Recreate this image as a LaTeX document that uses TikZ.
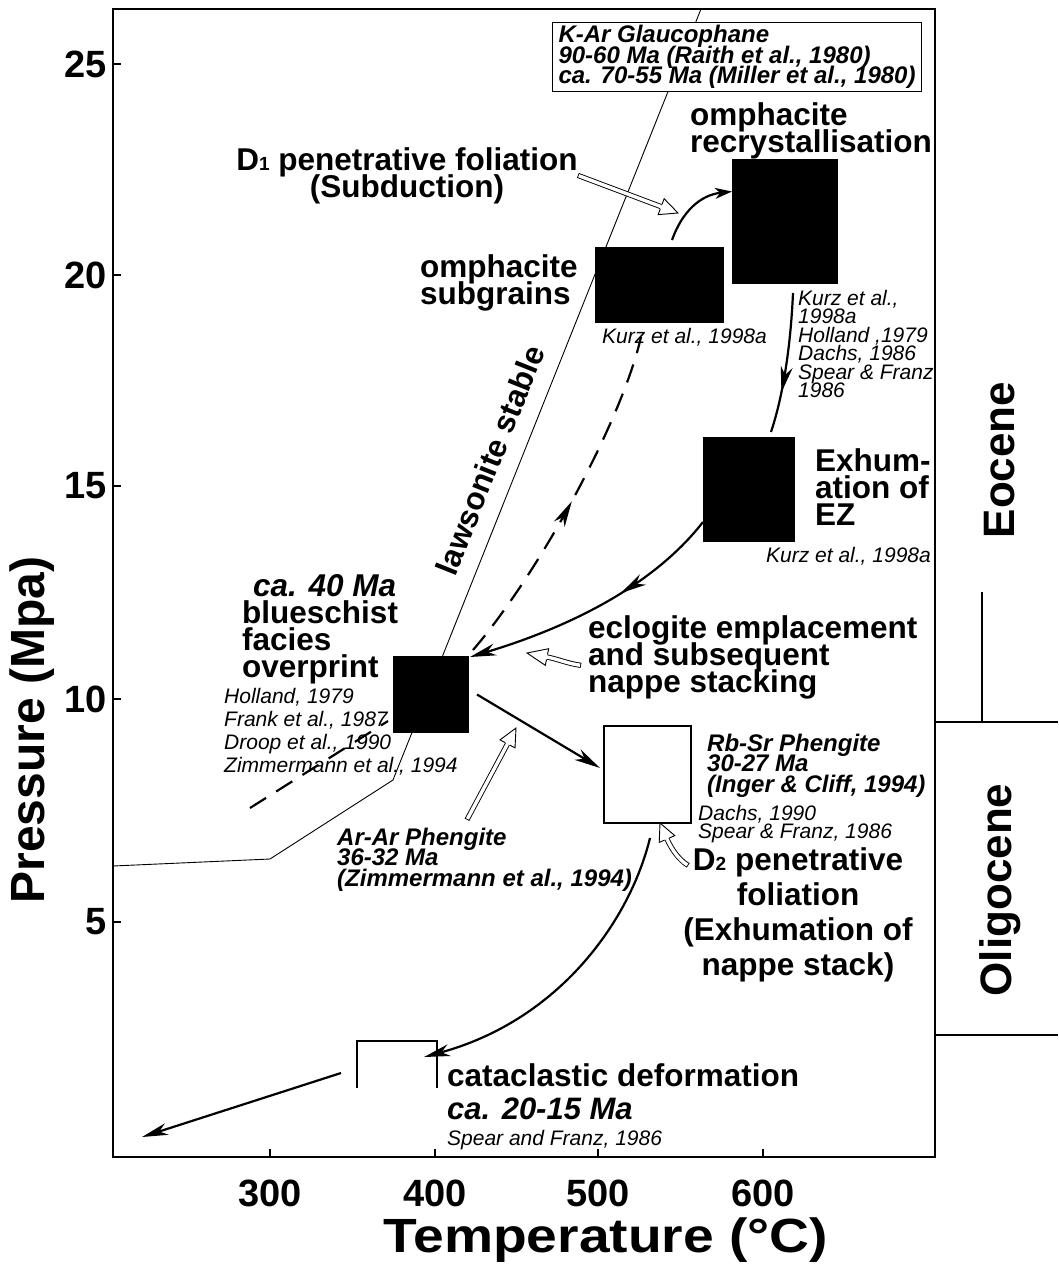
\documentclass[tikz,border=0pt]{standalone}
\usepackage{fontspec}
\setmainfont{Liberation Sans}
\usetikzlibrary{arrows.meta,positioning,calc,decorations.markings}
\lineskiplimit=-100pt

% open (outlined) arrow head: base point, tip
\newcommand{\openhead}[2]{%
  \filldraw[ohead] ($(#1)!2.6pt!90:(#2)$) -- ($(#1)!8.5pt!90:(#2)$) -- (#2)
    -- ($(#1)!8.5pt!-90:(#2)$) -- ($(#1)!2.6pt!-90:(#2)$);}

\begin{document}
\begin{tikzpicture}[x=1pt,y=1pt,
    >={Stealth[length=26pt,width=12pt,inset=8pt]},
    axframe/.style={line width=2pt},
    lawline/.style={line width=0.9pt},
    conn/.style={line width=2.2pt},
    dashconn/.style={line width=2.2pt,dash pattern=on 19pt off 12pt},
    midarr/.style={postaction={decorate,decoration={markings,mark=at position #1 with {\arrow{>}}}}},
    blkbox/.style={fill=black,inner sep=0pt,outer sep=0pt},
    opnbox/.style={draw,line width=1.2pt,inner sep=0pt,outer sep=0pt},
    oarrow/.style={white,line width=3.4pt,shorten <=0.9pt,preaction={draw=black,line width=5.2pt,shorten <=0pt}},
    ohead/.style={fill=white,draw=black,line width=0.9pt},
    lbl/.style={font=\fontsize{31.5}{27}\selectfont\bfseries,inner sep=0pt,align=left},
    age/.style={font=\fontsize{24}{20.5}\selectfont\bfseries\itshape,inner sep=0pt,align=left},
    ref/.style={font=\fontsize{21}{18.5}\selectfont\itshape,inner sep=0pt,align=left},
    ticklbl/.style={font=\fontsize{38}{38}\selectfont\bfseries,inner sep=0pt},
    axlbl/.style={font=\fontsize{48}{48}\selectfont\bfseries,inner sep=0pt},
    epoch/.style={font=\fontsize{44}{44}\selectfont\bfseries,inner sep=0pt,rotate=90}]

\useasboundingbox (0,0) rectangle (1058,-1264);

% axes
\draw[axframe] (113,-9) rectangle (935,-1157);
\foreach \p/\y in {25/64,20/275,15/486,10/699,5/922}{
  \draw[axframe] (113,-\y) -- +(8,0);
  \node[ticklbl,anchor=east] (p\p) at (107,-\y) {\p};
}
\foreach \t/\x in {300/270,400/435,500/598,600/763}{
  \draw[axframe] (\x,-1157) -- +(0,8);
  \node[ticklbl] (t\t) at (\x,-1193) {\t};
}
\node[axlbl,rotate=90,anchor=base] (ptitle) at (44,-730) {Pressure (Mpa)};
\node[axlbl,anchor=base,xscale=1.15,transform shape] (ttitle) at (606,-1252) {Temperature (°C)};

% epochs
\draw[axframe] (935,-722) -- (1058,-722) (935,-1035) -- (1058,-1035) (982,-592) -- (982,-722);
\node[epoch] (eoc) at (1000,-460) {Eocene};
\node[epoch] (oli) at (1000,-890) {Oligocene};

% lawsonite boundary
\draw[lawline] (701,-9) -- (393,-780) -- (270,-859) -- (113,-866);
\node[lbl,rotate=68.2] (laws) at (490,-460) {lawsonite stable};

\node[age,draw,fill=white,line width=1pt,anchor=north west,inner xsep=6pt,inner ysep=3pt] (kar) at (552,-22)
  {K-Ar Glaucophane\\90-60 Ma (Raith et al., 1980)\\ca. 70-55 Ma (Miller et al., 1980)};

% P-T boxes
\node[blkbox,minimum width=129pt,minimum height=76pt] (subgr) at (659.5,-285) {};
\node[blkbox,minimum width=106pt,minimum height=125pt] (recr) at (785,-221.5) {};
\node[blkbox,minimum width=92pt,minimum height=105pt] (exhum) at (749,-489.5) {};
\node[blkbox,minimum width=76pt,minimum height=77pt] (blue) at (431,-694.5) {};
\node[opnbox,minimum width=87pt,minimum height=97pt] (rbsr) at (647.5,-774.5) {};
\node[inner sep=0pt,outer sep=0pt,minimum width=80pt,minimum height=47pt] (cata) at (397,-1064.5) {};
\draw[line width=1.2pt] (cata.south west) |- (cata.north east) -- (cata.south east);

\coordinate (outp) at (142,-1137);
\coordinate (prog) at (250,-808);

% P-T path
\draw[conn,-{Stealth[length=17pt,width=11pt,inset=5pt]}] ([shift={(12.5,7)}]subgr.north)
  .. controls +(10,28) and +(-32,-3.5) .. ([yshift=30pt]recr.west);
\draw[conn,midarr=0.71] ([shift={(8,-9)}]recr.south)
  .. controls +(-3,-67) and +(9,27) .. ([shift={(22,5)}]exhum.north);
\draw[conn,midarr=0.4,->] ([yshift=20pt]exhum.south west)
  .. controls +(-53,-68) and +(90,27) .. ([shift={(1,-1)}]blue.north east);
\draw[conn,->] ([xshift=8pt]blue.east) -- ([shift={(-4,6.5)}]rbsr.west);
\draw[conn,->] ([shift={(2.5,-15)}]rbsr.south)
  .. controls +(-20,-82) and +(136,37) .. ([shift={(-13,7.5)}]cata.east);
\draw[conn,->] ([shift={(-16,-8.5)}]cata.west) -- (outp);
\draw[dashconn,midarr=0.5] ([shift={(4,6)}]blue.north east)
  .. controls +(67,78) and +(-19,-83) .. ([shift={(-18.5,-14)}]subgr.south);
\draw[dashconn] (prog) -- ([shift={(-5,12)}]blue.south west);

% labels
\node[lbl,anchor=north,align=center] (d1lbl) at (407,-147)
  {D{\fontsize{19}{19}\selectfont 1} penetrative foliation\\(Subduction)};
\node[lbl,anchor=north west] (omrec) at (690,-102.4) {omphacite\\recrystallisation};
\node[lbl,anchor=north west] (omsub) at (420,-254.4) {omphacite\\subgrains};
\node[ref,anchor=base west] (rsub) at (602,-343) {Kurz et al., 1998a};
\node[ref,anchor=north west] (rrec) at (798,-290)
  {Kurz et al.,\\1998a\\Holland ,1979\\Dachs, 1986\\Spear \& Franz\\1986};
\node[lbl,anchor=north west] (exlbl) at (815,-448.4) {Exhum-\\ation of\\EZ};
\node[ref,anchor=base west] (rex) at (766,-562) {Kurz et al., 1998a};
\node[lbl,anchor=north west] (bslbl) at (242,-574.4)
  {\hspace*{11pt}{\itshape ca. 40 Ma}\\blueschist\\facies\\overprint};
\node[ref,anchor=north west,font=\fontsize{21}{23}\selectfont\itshape] (rbs) at (224,-688)
  {Holland, 1979\\Frank et al., 1987\\Droop et al., 1990\\Zimmermann et al., 1994};
\node[lbl,anchor=north west] (eclo) at (588,-615.4) {eclogite emplacement\\and subsequent\\nappe stacking};
\node[age,anchor=north west] (rbage) at (707,-733.7) {Rb-Sr Phengite\\30-27 Ma\\(Inger \& Cliff, 1994)};
\node[ref,anchor=north west,font=\fontsize{21}{18}\selectfont\itshape] (rrb) at (698,-805)
  {Dachs, 1990\\Spear \& Franz, 1986};
\node[age,anchor=north west] (arage) at (337,-827.7) {Ar-Ar Phengite\\36-32 Ma\\(Zimmermann et al., 1994)};
\node[lbl,anchor=north,align=center,font=\fontsize{31.5}{35}\selectfont\bfseries] (d2lbl) at (798,-847.4)
  {D{\fontsize{19}{19}\selectfont 2} penetrative\\foliation\\(Exhumation of\\nappe stack)};
\node[lbl,anchor=base west] (catlbl) at (447,-1086) {cataclastic deformation};
\node[lbl,anchor=base west,font=\fontsize{31}{31}\selectfont\bfseries\itshape] (catage) at (447,-1119) {ca. 20-15 Ma};
\node[ref,anchor=base west] (rcat) at (447,-1145) {Spear and Franz, 1986};

% open arrows
\coordinate (d1p) at (678,-213);
\coordinate (d1b) at ($(d1p)!18pt!(d1lbl.east)$);
\draw[oarrow] (d1lbl.east) -- (d1b);
\openhead{d1b}{d1p}

\coordinate (art) at ([shift={(130,8)}]arage.north west);
\coordinate (arp) at (516,-728);
\coordinate (arb) at ($(arp)!18pt!(art)$);
\draw[oarrow] (art) -- (arb);
\openhead{arb}{arp}

\coordinate (ect) at ([shift={(-7,-8)}]eclo.west);
\coordinate (ecp) at (527,-653);
\coordinate (ecb) at (547,-657);
\draw[oarrow] (ect) .. controls +(-14,2) and +(12,-2.4) .. (ecb);
\openhead{ecb}{ecp}

\coordinate (d2t) at ([shift={(5,-18)}]d2lbl.north west);
\coordinate (d2p) at (660,-823);
\coordinate (d2b) at (667,-839);
\draw[oarrow] (d2t) .. controls +(-10,6) and +(4,-9) .. (d2b);
\openhead{d2b}{d2p}
\end{tikzpicture}
\end{document}
